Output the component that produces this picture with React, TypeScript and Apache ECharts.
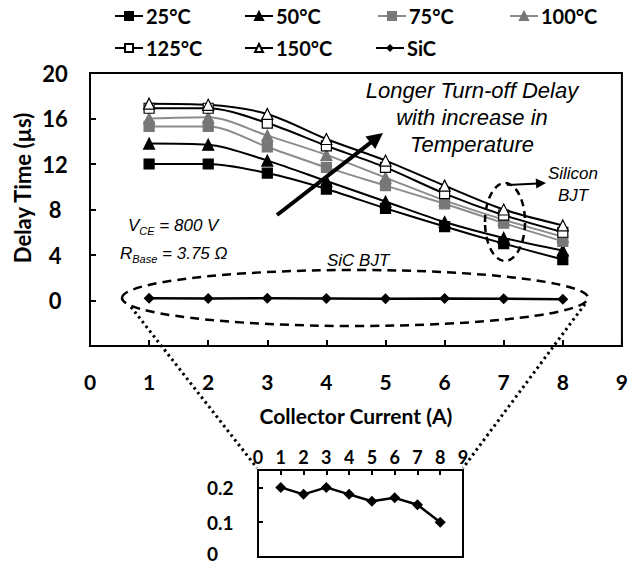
import { useEffect, useRef } from 'react';
import * as echarts from 'echarts';

// Collector current (A) at which each delay was measured
const currents = [1, 2, 3, 4, 5, 6, 7, 8];

// Turn-off delay time (µs) of the silicon BJT at each case temperature
const delay25 = [12.0, 12.0, 11.2, 9.8, 8.1, 6.5, 5.0, 3.6];
const delay50 = [13.8, 13.7, 12.3, 10.5, 8.7, 6.9, 5.5, 4.4];
const delay75 = [15.3, 15.3, 13.5, 11.7, 10.1, 8.5, 6.8, 5.2];
const delay100 = [16.0, 16.1, 14.5, 12.8, 10.8, 8.8, 7.1, 5.6];
const delay125 = [16.9, 16.9, 15.6, 13.6, 11.7, 9.4, 7.5, 6.0];
const delay150 = [17.3, 17.2, 16.4, 14.2, 12.3, 10.1, 8.0, 6.6];

// Turn-off delay time (µs) of the SiC BJT
const delaySiC = [0.2, 0.18, 0.2, 0.18, 0.16, 0.17, 0.15, 0.1];

const seriesNames = ['25°C', '50°C', '75°C', '100°C', '125°C', '150°C', 'SiC'];

const BOLD = 'Lato, "Noto Sans", sans-serif';
const ITALIC = '"Liberation Sans", Arial, sans-serif';

const pairs = (ys: number[]) => currents.map((x, i) => [x, ys[i]]);

// Straight arrow drawn as a shaft plus a filled head
function arrow(x1: number, y1: number, x2: number, y2: number, w: number, headLen: number, headHalf: number) {
  const dx = x2 - x1;
  const dy = y2 - y1;
  const len = Math.hypot(dx, dy);
  const ux = dx / len;
  const uy = dy / len;
  const bx = x2 - ux * headLen;
  const by = y2 - uy * headLen;
  const px = -uy;
  const py = ux;
  return [
    {
      type: 'line',
      shape: { x1, y1, x2: bx + ux * 2, y2: by + uy * 2 },
      style: { stroke: '#000', lineWidth: w },
    },
    {
      type: 'polygon',
      shape: {
        points: [
          [x2, y2],
          [bx + px * headHalf, by + py * headHalf],
          [bx - px * headHalf, by - py * headHalf],
        ],
      },
      style: { fill: '#000' },
    },
  ];
}

export default function App() {
  const ref = useRef<HTMLDivElement>(null);

  useEffect(() => {
    const chart = echarts.init(ref.current!, null, { renderer: 'svg' });

    const tempSeries = (
      name: string,
      ys: number[],
      symbol: string,
      size: number | number[],
      fill: string,
      border: string,
      lineColor: string
    ) => ({
      name,
      type: 'line',
      xAxisIndex: 0,
      yAxisIndex: 0,
      data: pairs(ys),
      smooth: 0.3,
      symbol,
      symbolSize: size,
      showSymbol: true,
      lineStyle: { color: lineColor, width: 2 },
      itemStyle: { color: fill, borderColor: border, borderWidth: 1.2 },
      z: 3,
    });

    const legendText = { fontFamily: BOLD, fontWeight: 'bold', fontSize: 20, color: '#000' };
    const legendPos: [string, number, number][] = [
      ['25°C', 114, 6],
      ['50°C', 244, 6],
      ['75°C', 377, 6],
      ['100°C', 509, 6],
      ['125°C', 114, 38],
      ['150°C', 244, 38],
      ['SiC', 375, 38],
    ];

    const axisLabelBold = { fontFamily: BOLD, fontWeight: 'bold', color: '#000' };
    const frameLine = { show: true, onZero: false, lineStyle: { color: '#000', width: 2 } };

    const option = {
      animation: false,
      backgroundColor: '#fff',
      legend: legendPos.map(([name, left, top]) => ({
        data: [name],
        left,
        top,
        itemWidth: 28,
        itemHeight: 10,
        itemGap: 2,
        padding: 0,
        selectedMode: false,
        textStyle: { ...legendText, padding: [0, 0, 0, -2] },
      })),
      grid: [
        {
          left: 90,
          top: 73,
          width: 532,
          height: 273,
          show: true,
          borderColor: '#000',
          borderWidth: 2,
          containLabel: false,
        },
        {
          left: 258,
          top: 470,
          width: 205,
          height: 87,
          show: true,
          borderColor: '#000',
          borderWidth: 2,
          containLabel: false,
        },
      ],
      xAxis: [
        {
          type: 'value',
          gridIndex: 0,
          min: 0,
          max: 9,
          interval: 1,
          position: 'bottom',
          splitLine: { show: false },
          axisLine: frameLine,
          axisTick: { show: true, inside: true, length: 6, lineStyle: { color: '#000', width: 2 } },
          axisLabel: { ...axisLabelBold, fontSize: 21, margin: 25 },
          name: 'Collector Current (A)',
          nameLocation: 'middle',
          nameGap: 59,
          nameTextStyle: { ...axisLabelBold, fontSize: 21 },
        },
        {
          type: 'value',
          gridIndex: 1,
          min: 0,
          max: 9,
          interval: 1,
          position: 'top',
          splitLine: { show: false },
          axisLine: frameLine,
          axisTick: { show: true, inside: true, length: 5, lineStyle: { color: '#000', width: 2 } },
          axisLabel: { ...axisLabelBold, fontSize: 18, margin: 4 },
        },
      ],
      yAxis: [
        {
          type: 'value',
          gridIndex: 0,
          min: -4,
          max: 20,
          interval: 4,
          splitLine: { show: false },
          axisLine: frameLine,
          axisTick: { show: true, inside: true, length: 6, lineStyle: { color: '#000', width: 2 } },
          axisLabel: {
            ...axisLabelBold,
            fontSize: 22,
            align: 'center',
            margin: 35,
            formatter: (v: number) => (v < 0 ? '' : String(v)),
          },
        },
        {
          type: 'value',
          gridIndex: 1,
          min: 0,
          max: 0.25,
          interval: 0.1,
          splitLine: { show: false },
          axisLine: frameLine,
          axisTick: { show: true, inside: true, length: 5, lineStyle: { color: '#000', width: 2 } },
          axisLabel: {
            ...axisLabelBold,
            fontSize: 19,
            align: 'left',
            margin: 51,
            formatter: (v: number) => {
              if (v > 0.22) return '';
              if (v === 0) return '{z|0}';
              return String(+v.toFixed(1));
            },
            rich: {
              z: { ...axisLabelBold, fontSize: 19, padding: [0, 0, 7, 0] },
            },
          },
        },
      ],
      series: [
        tempSeries(seriesNames[0], delay25, 'rect', 10, '#000', '#000', '#000'),
        tempSeries(seriesNames[1], delay50, 'triangle', [11, 11], '#000', '#000', '#000'),
        tempSeries(seriesNames[2], delay75, 'rect', 10, '#777', '#777', '#8c8c8c'),
        tempSeries(seriesNames[3], delay100, 'triangle', [11, 11], '#777', '#777', '#8c8c8c'),
        tempSeries(seriesNames[4], delay125, 'rect', 10, '#fff', '#000', '#000'),
        tempSeries(seriesNames[5], delay150, 'triangle', [11, 11], '#fff', '#000', '#000'),
        {
          name: seriesNames[6],
          type: 'line',
          xAxisIndex: 0,
          yAxisIndex: 0,
          data: pairs(delaySiC),
          symbol: 'diamond',
          symbolSize: 11,
          lineStyle: { color: '#000', width: 2.5 },
          itemStyle: { color: '#000' },
          z: 3,
        },
        {
          name: seriesNames[6],
          type: 'line',
          xAxisIndex: 1,
          yAxisIndex: 1,
          data: pairs(delaySiC),
          symbol: 'diamond',
          symbolSize: 11,
          lineStyle: { color: '#000', width: 2.5 },
          itemStyle: { color: '#000' },
          z: 3,
        },
      ],
      graphic: [
        {
          type: 'text',
          x: 22,
          y: 188,
          rotation: Math.PI / 2,
          style: {
            text: 'Delay Time (µs)',
            font: `bold 22px ${BOLD}`,
            fill: '#000',
            align: 'center',
            verticalAlign: 'middle',
          },
        },
        // dashed outline around the SiC BJT curve
        {
          type: 'ellipse',
          shape: { cx: 355, cy: 298, rx: 233, ry: 28 },
          style: { fill: 'none', stroke: '#000', lineWidth: 2.5, lineDash: [9, 6] },
          z: 10,
        },
        // dashed outline around the silicon BJT points at 7 A
        {
          type: 'ellipse',
          shape: { cx: 505, cy: 222, rx: 20, ry: 39 },
          style: { fill: 'none', stroke: '#000', lineWidth: 2.5, lineDash: [7, 5] },
          z: 10,
        },
        // dotted guides from the SiC outline down to the zoomed view
        {
          type: 'line',
          shape: { x1: 131, y1: 307, x2: 257, y2: 468 },
          style: { stroke: '#000', lineWidth: 3, lineDash: [2.5, 3.5] },
          z: 10,
        },
        {
          type: 'line',
          shape: { x1: 585, y1: 304, x2: 463, y2: 468 },
          style: { stroke: '#000', lineWidth: 3, lineDash: [2.5, 3.5] },
          z: 10,
        },
        ...arrow(277, 215, 383, 133, 4, 16, 8).map((e) => ({ ...e, z: 10 })),
        ...arrow(507, 185, 546, 183, 2, 10, 5).map((e) => ({ ...e, z: 10 })),
        {
          type: 'text',
          x: 472,
          y: 117,
          style: {
            text: 'Longer Turn-off Delay\nwith increase in\nTemperature',
            font: `italic 22px ${ITALIC}`,
            lineHeight: 27,
            fill: '#000',
            align: 'center',
            verticalAlign: 'middle',
          },
          z: 10,
        },
        {
          type: 'text',
          x: 573,
          y: 184,
          style: {
            text: 'Silicon\nBJT',
            font: `italic 17px ${ITALIC}`,
            lineHeight: 22,
            fill: '#000',
            align: 'center',
            verticalAlign: 'middle',
          },
          z: 10,
        },
        {
          type: 'text',
          x: 327,
          y: 260,
          style: {
            text: 'SiC BJT',
            font: `italic 17px ${ITALIC}`,
            fill: '#000',
            align: 'left',
            verticalAlign: 'middle',
          },
          z: 10,
        },
        {
          type: 'text',
          x: 128,
          y: 225,
          style: {
            text: '{a|V}{b|CE}{a| = 800 V}',
            align: 'left',
            verticalAlign: 'middle',
            rich: {
              a: { fontFamily: ITALIC, fontStyle: 'italic', fontSize: 17, lineHeight: 22, color: '#000' },
              b: { fontFamily: ITALIC, fontStyle: 'italic', fontSize: 11, lineHeight: 12, verticalAlign: 'bottom', color: '#000' },
            },
          },
          z: 10,
        },
        {
          type: 'text',
          x: 120,
          y: 253,
          style: {
            text: '{a|R}{b|Base}{a| = 3.75 Ω}',
            align: 'left',
            verticalAlign: 'middle',
            rich: {
              a: { fontFamily: ITALIC, fontStyle: 'italic', fontSize: 17, lineHeight: 22, color: '#000' },
              b: { fontFamily: ITALIC, fontStyle: 'italic', fontSize: 11, lineHeight: 12, verticalAlign: 'bottom', color: '#000' },
            },
          },
          z: 10,
        },
      ],
    };

    chart.setOption(option as any);
    return () => chart.dispose();
  }, []);

  return <div ref={ref} style={{ position: 'fixed', left: 0, top: 0, width: 631, height: 565 }} />;
}
